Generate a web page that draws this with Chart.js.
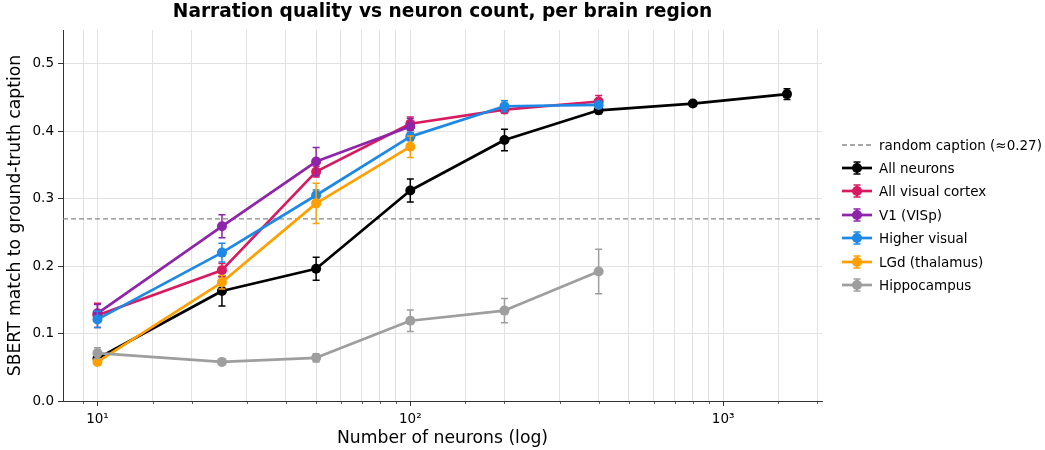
<!DOCTYPE html>
<html><head><meta charset="utf-8">
<script src="https://cdn.jsdelivr.net/npm/chart.js@4"></script>
<style>
html,body{margin:0;padding:0;background:#fff;}
#wrap{position:relative;width:1045px;height:450px;}
#c{position:absolute;left:0;top:0;}
#legend{position:absolute;left:842px;top:133px;font:13.5px "DejaVu Sans";color:#000;}
.row{display:flex;align-items:center;height:23.4px;white-space:nowrap;}
.row canvas{margin-right:7px;display:block;}
</style></head><body>
<div id="wrap"><canvas id="c" width="1045" height="450"></canvas><div id="legend"></div></div>
<script>
// ---- data ----
const neuronCounts = [10, 25, 50, 100, 200, 400, 800, 1600];
const xTickLabels = { 10: '10\u00b9', 100: '10\u00b2', 1000: '10\u00b3' };
const yTickValues = [0, 0.1, 0.2, 0.3, 0.4, 0.5];
const randomCaption = 0.27;

const allNeuronsMean = [0.063, 0.163, 0.196, 0.312, 0.387, 0.431, 0.441, 0.455];
const allNeuronsErr  = [0.006, 0.022, 0.017, 0.017, 0.016, 0.005, 0.004, 0.008];
const visualCortexMean = [0.127, 0.194, 0.340, 0.411, 0.432, 0.444];
const visualCortexErr  = [0.018, 0.010, 0.008, 0.010, 0.005, 0.009];
const v1Mean = [0.130, 0.259, 0.355, 0.407];
const v1Err  = [0.013, 0.017, 0.021, 0.012];
const higherVisualMean = [0.121, 0.220, 0.305, 0.392, 0.437, 0.439];
const higherVisualErr  = [0.012, 0.014, 0.008, 0.006, 0.008, 0.005];
const lgdMean = [0.058, 0.176, 0.293, 0.377];
const lgdErr  = [0.004, 0.010, 0.030, 0.016];
const hippocampusMean = [0.071, 0.058, 0.064, 0.119, 0.134, 0.192];
const hippocampusErr  = [0.008, 0.004, 0.006, 0.016, 0.018, 0.033];

const seriesLabels = ['All neurons', 'All visual cortex', 'V1 (VISp)', 'Higher visual', 'LGd (thalamus)', 'Hippocampus'];
const seriesColors = ['#000000', '#d81b60', '#8e24aa', '#1e88e5', '#ffa000', '#9e9e9e'];
const seriesMeans = [allNeuronsMean, visualCortexMean, v1Mean, higherVisualMean, lgdMean, hippocampusMean];
const seriesErrs = [allNeuronsErr, visualCortexErr, v1Err, higherVisualErr, lgdErr, hippocampusErr];
const baselineLabel = 'random caption (\u22480.27)';

const X_MIN = 7.76, X_MAX = 2070;
const Y_MIN = 0, Y_MAX = 0.55;
const FONT = 'DejaVu Sans';

const isPow10 = v => { const l = Math.log10(v); return Math.abs(l - Math.round(l)) < 1e-9; };

const datasets = [{
  label: baselineLabel,
  data: [{x: X_MIN, y: randomCaption}, {x: X_MAX, y: randomCaption}],
  borderColor: '#888888', borderWidth: 1.4, borderDash: [5, 3],
  pointRadius: 0, order: 100, fill: false
}];
seriesLabels.forEach((lab, i) => {
  datasets.push({
    label: lab,
    data: seriesMeans[i].map((v, j) => ({x: neuronCounts[j], y: v})),
    errors: seriesErrs[i],
    borderColor: seriesColors[i], backgroundColor: seriesColors[i],
    borderWidth: 2.7, pointRadius: 5, pointHoverRadius: 5, pointBorderWidth: 0,
    borderJoinStyle: 'round', tension: 0, fill: false,
    order: seriesLabels.length - i
  });
});

const errorBars = {
  id: 'errorBars',
  beforeDatasetDraw(chart, args) {
    const ds = chart.data.datasets[args.index];
    if (!ds.errors) return;
    const ys = chart.scales.y, ctx = chart.ctx;
    ctx.save();
    ctx.strokeStyle = ds.borderColor; ctx.lineWidth = 1.5;
    args.meta.data.forEach((pt, j) => {
      const v = ds.data[j].y, e = ds.errors[j];
      const y1 = ys.getPixelForValue(v + e), y2 = ys.getPixelForValue(v - e);
      ctx.beginPath();
      ctx.moveTo(pt.x, y1); ctx.lineTo(pt.x, y2);
      ctx.moveTo(pt.x - 3.5, y1); ctx.lineTo(pt.x + 3.5, y1);
      ctx.moveTo(pt.x - 3.5, y2); ctx.lineTo(pt.x + 3.5, y2);
      ctx.stroke();
    });
    ctx.restore();
  }
};

const minorTicks = {
  id: 'minorTicks',
  afterDraw(chart) {
    const xs = chart.scales.x, ctx = chart.ctx, b = chart.chartArea.bottom;
    ctx.save(); ctx.strokeStyle = '#333'; ctx.lineWidth = 0.8;
    xs.ticks.forEach(t => {
      if (isPow10(t.value)) return;
      const px = Math.round(xs.getPixelForValue(t.value)) + 0.5;
      ctx.beginPath(); ctx.moveTo(px, b); ctx.lineTo(px, b + 3); ctx.stroke();
    });
    ctx.restore();
  }
};

new Chart(document.getElementById('c'), {
  type: 'line',
  data: { datasets },
  plugins: [errorBars, minorTicks],
  options: {
    responsive: false, animation: false, devicePixelRatio: 1,
    layout: { padding: { left: 0, right: 223, top: 0, bottom: 0 } },
    plugins: {
      legend: { display: false },
      tooltip: { enabled: false },
      title: {
        display: true, fullSize: false,
        text: 'Narration quality vs neuron count, per brain region',
        font: { family: FONT, size: 18.6, weight: 'bold' }, color: '#000',
        padding: { top: 1, bottom: 6.7 }
      }
    },
    scales: {
      x: {
        type: 'logarithmic', min: X_MIN, max: X_MAX,
        afterBuildTicks: s => { s.ticks = s.ticks.filter(t => t.value > X_MIN * 1.001 && t.value < X_MAX * 0.999); },
        afterFit: s => { s.height = 49; },
        grid: { color: '#e2e2e2', lineWidth: 1, tickLength: 5,
                tickColor: c => (c.tick && isPow10(c.tick.value)) ? '#333' : 'rgba(0,0,0,0)' },
        border: { color: '#333', width: 1 },
        ticks: { autoSkip: false, maxRotation: 0, minRotation: 0, padding: 5,
                 font: { family: FONT, size: 13.5 }, color: '#000',
                 callback: v => xTickLabels[Math.round(v)] && isPow10(v) ? xTickLabels[Math.round(v)] : '' },
        title: { display: true, text: 'Number of neurons (log)', font: { family: FONT, size: 17.2 }, color: '#000',
                 padding: { top: 0, bottom: 1 } }
      },
      y: {
        min: Y_MIN, max: Y_MAX,
        afterBuildTicks: s => { s.ticks = yTickValues.map(v => ({ value: v })); },
        afterFit: s => { s.width = 63; },
        grid: { color: '#e2e2e2', lineWidth: 1, tickLength: 5, tickColor: '#333' },
        border: { color: '#333', width: 1 },
        ticks: { padding: 4, font: { family: FONT, size: 13.5 }, color: '#000', callback: v => Number(v).toFixed(1) },
        title: { display: true, text: 'SBERT match to ground-truth caption', font: { family: FONT, size: 17.2 }, color: '#000',
                 padding: { top: 5, bottom: 0 } }
      }
    }
  }
});

// ---- legend (HTML) ----
const legend = document.getElementById('legend');
function addRow(label, draw) {
  const row = document.createElement('div'); row.className = 'row';
  const cv = document.createElement('canvas'); cv.width = 30; cv.height = 20;
  draw(cv.getContext('2d'));
  const sp = document.createElement('span'); sp.textContent = label;
  row.appendChild(cv); row.appendChild(sp); legend.appendChild(row);
}
addRow(baselineLabel, ctx => {
  ctx.strokeStyle = '#888'; ctx.lineWidth = 1.4; ctx.setLineDash([5, 3]);
  ctx.beginPath(); ctx.moveTo(0, 10); ctx.lineTo(30, 10); ctx.stroke();
});
seriesLabels.forEach((lab, i) => addRow(lab, ctx => {
  const col = seriesColors[i];
  ctx.strokeStyle = col; ctx.fillStyle = col;
  ctx.lineWidth = 1.5;
  ctx.beginPath(); ctx.moveTo(15, 4); ctx.lineTo(15, 16);
  ctx.moveTo(11.5, 4); ctx.lineTo(18.5, 4); ctx.moveTo(11.5, 16); ctx.lineTo(18.5, 16); ctx.stroke();
  ctx.lineWidth = 2.7;
  ctx.beginPath(); ctx.moveTo(0, 10); ctx.lineTo(30, 10); ctx.stroke();
  ctx.beginPath(); ctx.arc(15, 10, 5, 0, Math.PI * 2); ctx.fill();
}));
</script>
</body></html>
